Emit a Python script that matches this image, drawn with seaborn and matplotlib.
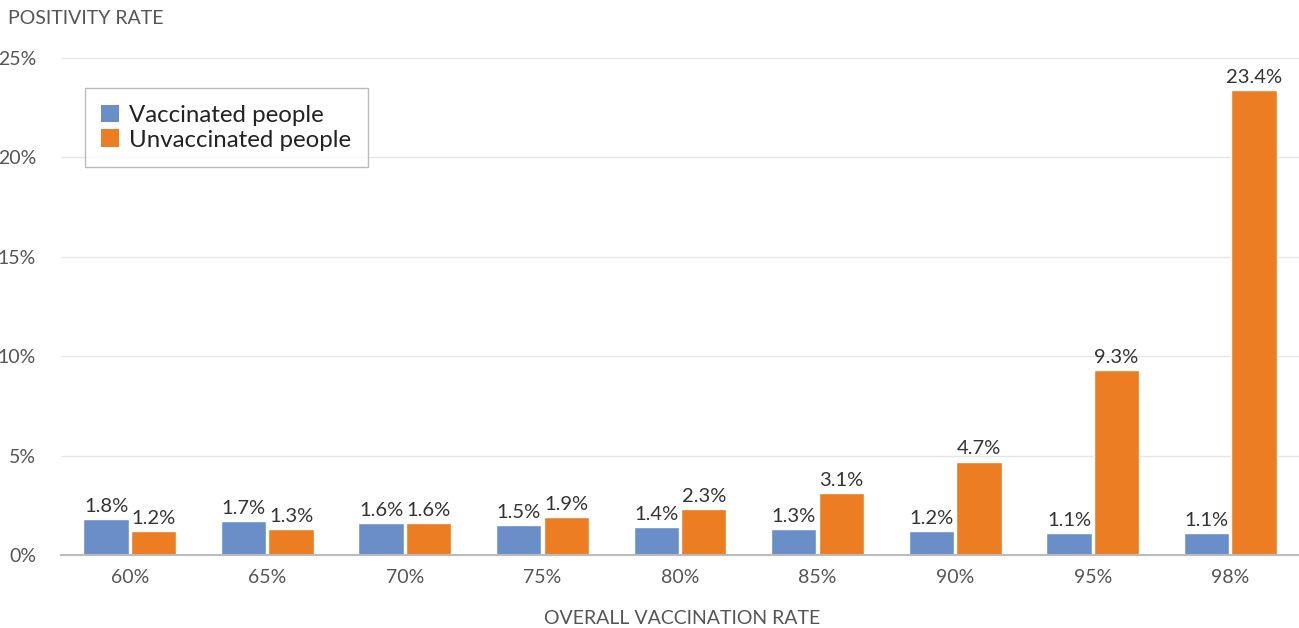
import matplotlib
matplotlib.use("Agg")
import matplotlib.pyplot as plt
import seaborn as sns
import pandas as pd
from matplotlib.patches import Patch

categories = ["60%", "65%", "70%", "75%", "80%", "85%", "90%", "95%", "98%"]
vaccinated = [1.8, 1.7, 1.6, 1.5, 1.4, 1.3, 1.2, 1.1, 1.1]
unvaccinated = [1.2, 1.3, 1.6, 1.9, 2.3, 3.1, 4.7, 9.3, 23.4]
series_names = ["Vaccinated people", "Unvaccinated people"]
yticks = [0, 5, 10, 15, 20, 25]
ytick_labels = ["0%", "5%", "10%", "15%", "20%", "25%"]

colors = ["#6A8EC8", "#EC7D23"]

df = pd.DataFrame({
    "rate": categories * 2,
    "value": vaccinated + unvaccinated,
    "group": [series_names[0]] * len(categories) + [series_names[1]] * len(categories),
})

sns.set_theme(style="white")
plt.rcParams["font.family"] = ["Lato", "DejaVu Sans"]

fig = plt.figure(figsize=(12.99, 6.28), dpi=100)
ax = fig.add_axes([61 / 1299, 73 / 628, 1238 / 1299, 497 / 628])

sns.barplot(data=df, x="rate", y="value", hue="group", order=categories,
            hue_order=series_names, palette=colors, width=0.69, gap=0.045,
            saturation=1, errorbar=None, legend=False, ax=ax)

for cont in ax.containers:
    ax.bar_label(cont, labels=[f"{v:.1f}%" for v in cont.datavalues],
                 padding=3, fontsize=14.5, color="#333333", clip_on=False)

ax.set_xlim(-0.5, 8.5)
ax.set_ylim(0, 25)
ax.set_yticks(yticks)
ax.set_yticklabels(ytick_labels)
ax.grid(axis="y", color="#E6E6E6", linewidth=1)
ax.set_axisbelow(True)
for s in ["top", "right", "left"]:
    ax.spines[s].set_visible(False)
ax.spines["bottom"].set_color("#BBBBBB")
ax.spines["bottom"].set_linewidth(1.5)
ax.tick_params(axis="both", length=0, labelsize=14, labelcolor="#555555")
ax.tick_params(axis="x", pad=10)
ax.tick_params(axis="y", pad=18)

ax.set_xlabel("")
ax.set_ylabel("")
fig.text(682 / 1299, 1 - 618 / 628, "OVERALL VACCINATION RATE", ha="center", va="center",
         fontsize=14, color="#555555")
fig.text(8 / 1299, 1 - 18 / 628, "POSITIVITY RATE", ha="left", va="center",
         fontsize=14, color="#555555")

handles = [Patch(facecolor=c, edgecolor="none") for c in colors]
leg = ax.legend(handles, series_names, loc="upper left", bbox_to_anchor=(0.019, 0.94),
                borderaxespad=0, fontsize=17.3, handlelength=0.75, handleheight=0.75,
                handletextpad=0.4, labelspacing=0.15, frameon=True, fancybox=False,
                borderpad=0.7)
leg.get_frame().set_edgecolor("#AAAAAA")
leg.get_frame().set_linewidth(1)
for t in leg.get_texts():
    t.set_color("#222222")

fig.savefig("out.png", dpi=100)
